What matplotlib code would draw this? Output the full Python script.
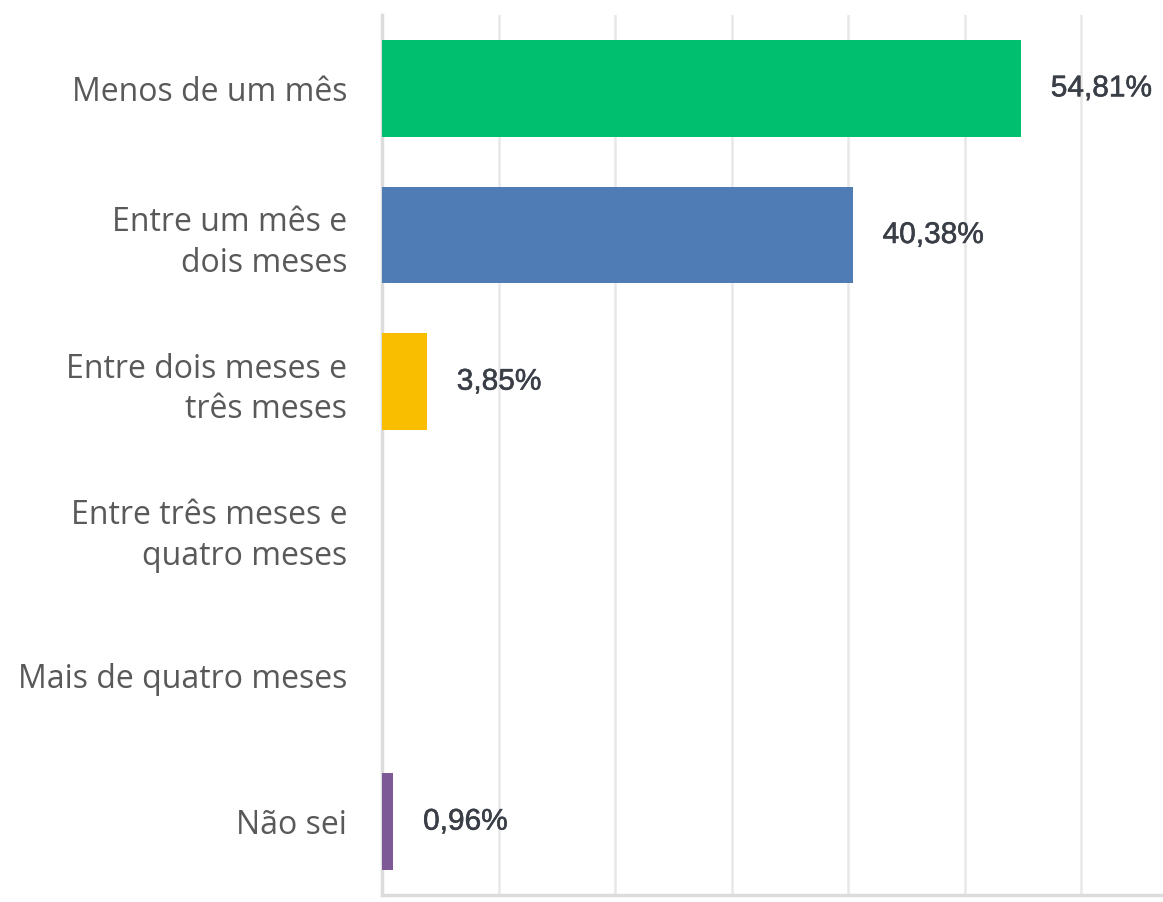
import numpy as np
import matplotlib.pyplot as plt
import matplotlib.patheffects as pe

categories = ['Menos de um mês', 'Entre um mês e\ndois meses', 'Entre dois meses e\ntrês meses',
              'Entre três meses e\nquatro meses', 'Mais de quatro meses', 'Não sei']
values = [54.81, 40.38, 3.85, 0.0, 0.0, 0.96]
value_labels = ['54,81%', '40,38%', '3,85%', '', '', '0,96%']
colors = ['#00BF6F', '#507CB6', '#F9BE00', '#6BC8CD', '#FF8B4F', '#7D5A96']

fig = plt.figure(figsize=(11.63, 9.02), dpi=100)
ax = fig.add_axes([382 / 1163, 7 / 902, 1 - 382 / 1163, 880 / 902])

y = np.arange(len(categories))
ax.barh(y, values, height=0.66, color=colors, zorder=3)

# percentage labels to the right of each bar
for yi, v, lab in zip(y, values, value_labels):
    if lab:
        ax.annotate(lab, (v, yi), xytext=(21.5, 0), textcoords='offset points',
                    va='center', ha='left', fontsize=21.5, color='#3a3f47',
                    family='Liberation Sans', fontweight='normal',
                    path_effects=[pe.withStroke(linewidth=0.4, foreground='#3a3f47')])

ax.set_xlim(0, 67)
ax.set_ylim(len(categories) - 0.5, -0.5)
ax.set_xticks(np.arange(10, 70, 10))
ax.xaxis.grid(True, color='#e8e8e8', linewidth=1.8, zorder=0)
ax.tick_params(axis='x', length=0, labelbottom=False)
ax.tick_params(axis='y', length=0, pad=25)
ax.set_yticks(y)
ax.set_yticklabels(categories, fontsize=23, color='#595959', family='Open Sans',
                   fontweight='normal', linespacing=1.3)

for s in ['top', 'right']:
    ax.spines[s].set_visible(False)
ax.spines['left'].set_color('#dcdcdc')
ax.spines['left'].set_linewidth(2.5)
ax.spines['bottom'].set_color('#dcdcdc')
ax.spines['bottom'].set_linewidth(2.5)

fig.savefig('out.png', dpi=100)
